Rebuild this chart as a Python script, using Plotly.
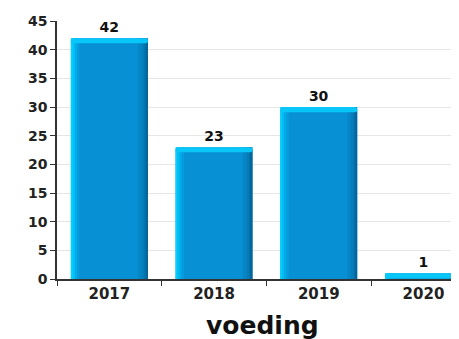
import plotly.graph_objects as go

categories = ["2017", "2018", "2019", "2020"]
values = [42, 23, 30, 1]
y_ticks = [0, 5, 10, 15, 20, 25, 30, 35, 40, 45]
x_title = "voeding"

W = 0.735  # bar width in category units
fig = go.Figure()

# base bar
fig.add_trace(go.Bar(x=categories, y=values, width=W, marker=dict(color="#0890d4", cornerradius=4, line=dict(width=0)),
                     text=[str(v) for v in values], textposition="outside",
                     textfont=dict(family="DejaVu Sans", size=14, weight="bold", color="#111111"),
                     cliponaxis=False, hoverinfo="skip"))

# horizontal gradient strips (left highlight, right shade)
strips = [
    (0.000, 0.020, "#00d2ff"),
    (0.020, 0.040, "#02bff6"),
    (0.040, 0.060, "#04abea"),
    (0.060, 0.080, "#069cde"),
    (0.640, 0.675, "#0786c6"),
    (0.675, 0.700, "#067cb8"),
    (0.700, 0.720, "#0570a8"),
    (0.720, 0.735, "#04669c"),
]
for a, b, c in strips:
    fig.add_trace(go.Bar(x=categories, y=values, width=b - a, offset=-W / 2 + a,
                         marker=dict(color=c, cornerradius=0, line=dict(width=0)), hoverinfo="skip"))

# top cap
cap = 0.9
fig.add_trace(go.Bar(x=categories, y=[min(cap, v) for v in values], base=[v - min(cap, v) for v in values],
                     width=W, marker=dict(color="#08c6f8", cornerradius=4, line=dict(width=0)), hoverinfo="skip"))

fig.update_layout(
    barmode="overlay",
    width=459, height=331,
    margin=dict(l=49, r=0, t=13, b=60),
    paper_bgcolor="white", plot_bgcolor="white",
    showlegend=False,
    font=dict(family="DejaVu Sans", color="#111111"),
    annotations=[dict(text=x_title, xref="paper", yref="paper", x=0.5, y=-0.18,
                      xanchor="center", yanchor="middle", showarrow=False,
                      font=dict(family="DejaVu Sans", size=25, weight="bold", color="#111111"))],
)
fig.update_xaxes(
    type="category", range=[-0.5, 3.416], automargin=False,
    tickson="boundaries", ticks="outside", ticklen=5, tickcolor="#333333",
    showline=True, linecolor="#333333", linewidth=1.5,
    tickfont=dict(family="DejaVu Sans", size=15, weight="bold", color="#222222"),
    showgrid=False,
)
fig.update_yaxes(
    range=[0, 45], tickvals=y_ticks, automargin=False,
    ticks="outside", ticklen=5, tickcolor="#333333",
    showline=True, linecolor="#333333", linewidth=1.5,
    gridcolor="#e6e6e6", gridwidth=1,
    tickfont=dict(family="DejaVu Sans", size=14, weight="bold", color="#222222"),
    zeroline=False,
)
fig.write_html("out.html")
